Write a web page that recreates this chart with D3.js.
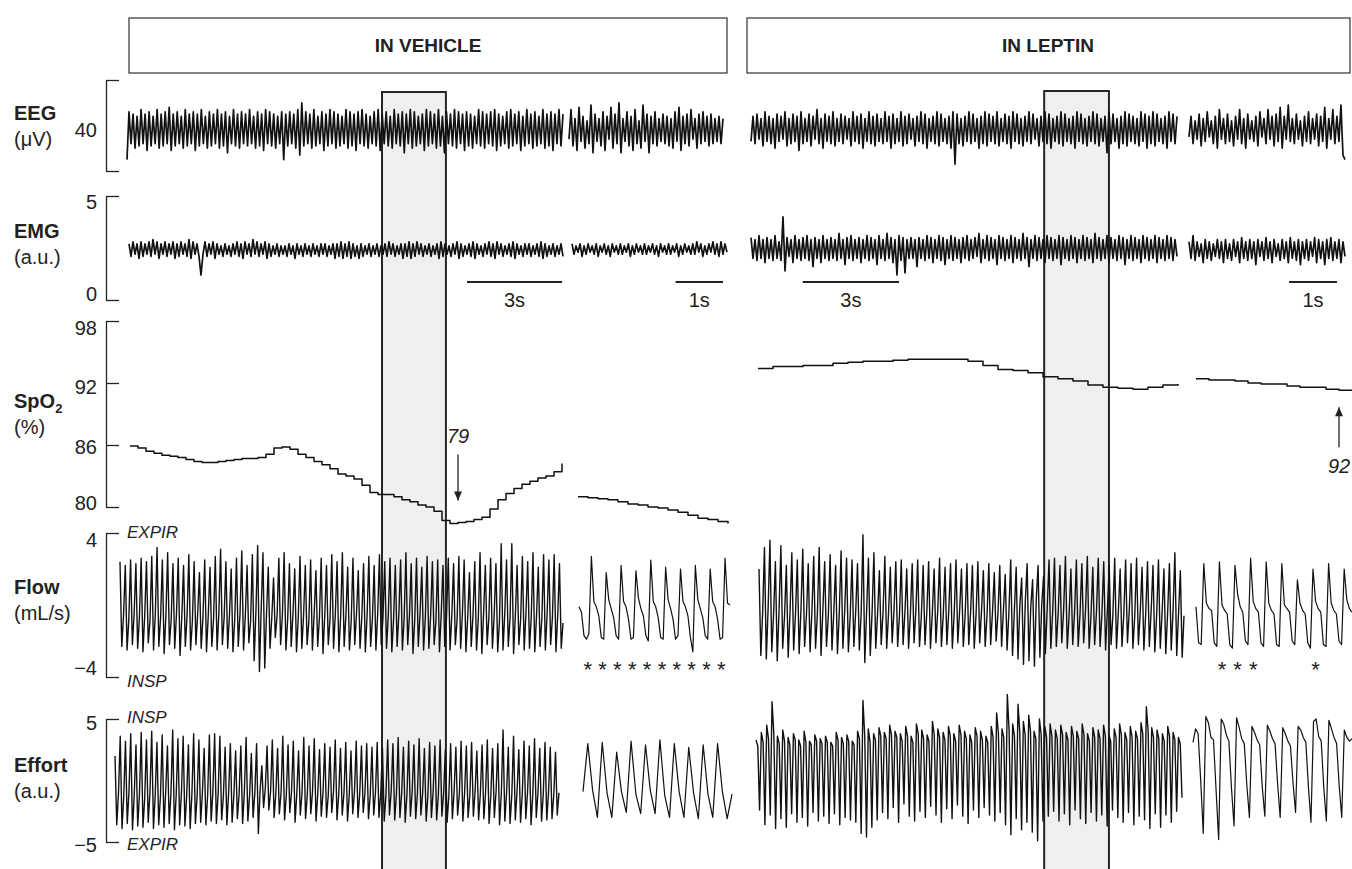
<!DOCTYPE html>
<html>
<head>
<meta charset="utf-8">
<script src="https://cdn.jsdelivr.net/npm/d3@7"></script>
<style>
body { margin: 0; background: #fff; }
svg { display: block; font-family: "Liberation Sans", Arial, Helvetica, sans-serif; }
.trace { fill: none; stroke: #111; stroke-width: 1; stroke-linejoin: round; }
.axis path, .axis line { stroke: #222; stroke-width: 1.3; }
.axis text { font-size: 20px; fill: #222; font-family: "Liberation Sans", Arial, sans-serif; }
</style>
</head>
<body>
<div id="chart"></div>
<script>
// ---- data ----
const panels = ["IN VEHICLE", "IN LEPTIN"];

// EEG (uV)
const eegVehMain = [-15,6,-8,5,-10,4,-9,7,-8,5,-11,6,-9,4,-8,7,-10,5,-9,6,
  -8,8,-11,5,-9,6,-8,4,-10,7,-9,5,-8,6,-11,5,-9,7,-8,4,
  -10,6,-9,5,-8,7,-10,5,-9,6,-12,4,-8,7,-9,5,-10,6,-8,5,
  -9,7,-8,4,-10,6,-9,5,-11,7,-8,6,-9,5,-10,4,-8,6,-15,5,
  -9,6,-8,5,-10,7,-13,10,-9,6,-8,5,-10,7,-9,4,-8,6,-11,5,
  -9,7,-8,6,-10,5,-9,4,-8,7,-10,6,-9,5,-11,6,-8,7,-9,5,
  -10,4,-8,6,-9,7,-11,5,-8,6,-9,4,-10,7,-8,5,-9,6,-12,5,
  -8,7,-10,6,-9,4,-8,5,-11,7,-9,6,-8,5,-10,7,-9,4,-12,6,
  -8,5,-9,7,-10,6,-8,5,-11,6,-9,5,-10,4,-8,7,-9,6,-10,5,
  -8,6,-9,7,-11,5,-9,4,-8,6,-10,7,-9,5,-8,6,-11,4,-9,7,
  -8,5,-10,6,-9,4,-8,7,-10,5,-9,6,-11,5,-8,7,-9,5];
const eegVehSmall = [-6,7,-9,3,-11,8,-7,4,-10,2,-8,9,-12,5,-7,3,-9,6,-11,4,
  -6,8,-10,5,-8,10,-12,3,-7,6,-9,4,-11,7,-8,2,-10,9,-7,5,
  -12,4,-8,6,-9,3,-7,5,-8,4,-9,3,-10,6,-7,8,-11,4,-8,5,
  -9,7,-6,3,-10,5,-8,6,-7,4,-9,5,-8,3,-7,4,-8,3];
const eegLepMain = [-7,4,-8,5,-6,3,-9,6,-7,4,-8,3,-10,5,-7,4,-6,6,-9,3,
  -8,5,-7,4,-11,6,-8,3,-7,5,-9,4,-6,7,-8,3,-10,5,-7,4,
  -8,6,-9,3,-7,5,-8,4,-6,3,-9,6,-7,4,-8,5,-10,3,-7,6,
  -8,4,-9,5,-7,3,-8,6,-7,4,-10,5,-8,3,-7,6,-9,4,-8,5,
  -6,3,-9,4,-7,6,-8,5,-10,3,-7,4,-8,6,-9,5,-7,3,-8,4,
  -10,6,-17,5,-8,3,-9,4,-7,6,-8,5,-7,3,-10,4,-8,6,-9,5,
  -7,4,-8,6,-9,3,-7,5,-8,4,-10,6,-7,5,-8,3,-9,4,-7,6,
  -8,5,-6,3,-9,4,-7,6,-8,5,-10,3,-7,4,-8,6,-9,5,-7,3,
  -8,4,-10,6,-7,5,-8,3,-9,4,-7,6,-8,5,-9,3,-7,4,-12,6,
  -8,5,-7,3,-10,4,-8,6,-9,5,-7,4,-8,3,-9,6,-7,5,-10,4,
  -8,6,-9,5,-7,3,-8,4,-10,6,-7,5,-8,4];
const eegLepSmall = [-5,4,-8,2,-6,5,-9,3,-7,6,-5,2,-8,4,-10,7,-6,3,-8,5,
  -7,2,-9,4,-6,7,-8,3,-10,5,-6,2,-7,4,-9,6,-5,3,-8,7,
  -6,4,-9,5,-7,8,-10,4,-6,9,-7,3,-8,5,-6,2,-9,4,-7,6,
  -8,3,-6,5,-9,4,-7,8,-10,3,-6,7,-8,4,-7,9,-13,-15];

// EMG (a.u.)
const emgVehMain = [2.7,2.1,2.8,2.2,2.7,2.0,2.8,2.1,2.7,2.2,2.8,2.1,2.9,2.2,2.8,2.0,2.7,2.2,2.8,2.1,
  2.7,2.2,2.8,2.0,2.7,2.1,2.8,2.2,2.7,2.1,2.9,2.0,2.8,2.2,2.7,2.1,1.2,2.2,2.8,2.1,
  2.7,2.2,2.8,2.0,2.7,2.2,2.6,2.1,2.7,2.2,2.6,2.1,2.7,2.2,2.8,2.1,2.7,2.0,2.8,2.2,
  2.7,2.1,2.9,2.2,2.8,2.1,2.7,2.2,2.8,2.0,2.7,2.1,2.6,2.2,2.7,2.1,2.6,2.2,2.6,2.1,
  2.7,2.2,2.6,2.0,2.7,2.2,2.6,2.1,2.7,2.2,2.6,2.1,2.7,2.2,2.6,2.1,2.7,2.2,2.7,2.1,
  2.6,2.2,2.7,2.0,2.7,2.1,2.8,2.0,2.7,2.1,2.8,2.0,2.7,2.1,2.6,2.0,2.7,2.1,2.6,2.2,
  2.7,2.1,2.6,2.2,2.7,2.1,2.6,2.2,2.7,2.1,2.8,2.2,2.7,2.1,2.6,2.2,2.7,2.0,2.7,2.1,
  2.8,2.0,2.7,2.1,2.8,2.2,2.7,2.1,2.6,2.2,2.7,2.1,2.6,2.2,2.7,2.0,2.8,2.1,2.7,2.2,
  2.6,2.1,2.7,2.2,2.8,2.0,2.7,2.1,2.6,2.2,2.7,2.1,2.8,2.0,2.7,2.2,2.6,2.1,2.7,2.2,
  2.8,2.1,2.7,2.0,2.8,2.2,2.7,2.1,2.6,2.2,2.7,2.1,2.8,2.0,2.7,2.2,2.6,2.1,2.7,2.2,
  2.7,2.1,2.6,2.2,2.7,2.1,2.8,2.0,2.7,2.1,2.6,2.2,2.7,2.1,2.6,2.2,2.7,2.1];
const emgVehSmall = [2.7,2.2,2.6,2.3,2.7,2.1,2.6,2.2,2.7,2.3,2.6,2.2,2.7,2.1,2.6,2.3,2.7,2.2,2.6,2.1,
  2.7,2.3,2.6,2.2,2.7,2.2,2.6,2.3,2.7,2.1,2.6,2.2,2.7,2.3,2.6,2.2,2.7,2.2,2.6,2.3,
  2.7,2.2,2.6,2.1,2.7,2.3,2.6,2.2,2.7,2.2,2.6,2.3,2.7,2.1,2.6,2.2,2.7,2.3,2.6,2.2,
  2.7,2.2,2.8,2.3,2.7,2.1,2.6,2.2,2.7,2.3,2.8,2.2,2.7,2.1,2.8,2.2,2.7,2.3];
const emgLepMain = [3.0,2.0,2.9,1.9,3.1,2.0,2.9,1.8,3.0,2.0,2.9,1.9,3.1,2.0,2.8,1.9,4.0,1.4,3.0,2.1,
  2.9,1.8,3.1,2.0,2.9,1.9,3.0,2.0,3.1,1.9,2.9,1.6,3.0,2.0,2.9,1.8,3.1,2.0,2.9,1.9,
  3.0,2.0,2.9,1.9,3.2,2.0,2.9,1.7,3.0,2.0,3.1,1.9,2.9,2.0,3.0,1.8,2.9,2.0,3.1,1.9,
  3.0,2.0,2.9,1.7,3.1,2.0,2.9,1.9,3.2,2.0,3.0,1.8,2.9,1.2,3.1,1.9,3.0,1.3,2.9,2.0,
  3.0,2.0,2.9,1.6,3.0,2.0,2.9,1.9,3.1,2.0,3.0,1.8,2.9,2.0,3.1,1.9,3.0,1.7,2.9,2.0,
  3.1,1.9,3.0,2.0,2.9,1.8,3.0,2.0,3.1,1.9,2.9,2.0,3.0,2.1,3.2,1.8,2.9,2.0,3.1,1.9,
  3.0,2.0,2.9,1.7,3.1,2.0,3.0,1.9,2.9,2.0,3.1,1.8,3.0,2.0,2.9,1.9,3.2,2.0,3.0,1.6,
  2.9,2.0,3.1,1.9,3.0,2.0,2.9,1.8,3.1,2.0,3.0,1.9,2.9,2.0,3.1,1.7,3.0,2.0,2.9,1.9,
  3.1,2.0,3.0,1.8,2.9,2.0,3.1,1.9,3.0,2.0,2.9,1.8,3.2,2.0,3.0,1.9,2.9,2.0,3.1,1.8,
  3.0,2.0,2.9,1.9,3.1,2.0,3.0,1.7,2.9,2.0,3.1,1.9,3.0,2.0,2.9,1.8,3.1,2.0,3.0,1.9,
  2.9,2.0,3.1,1.8,3.0,2.0,2.9,1.9,3.1,2.0,3.0,1.9,2.9,2.1];
const emgLepSmall = [2.8,2.0,3.1,1.9,2.8,2.1,2.7,1.8,2.9,2.0,2.8,1.9,2.7,2.1,2.9,2.0,2.8,1.8,2.9,2.0,
  2.7,1.9,2.9,2.1,2.8,1.8,3.0,2.0,2.8,1.9,2.9,2.0,2.8,1.7,2.9,2.1,2.8,1.9,3.0,2.0,
  2.8,1.8,2.9,2.1,2.7,1.9,2.9,2.0,2.8,1.8,3.0,2.0,2.8,1.9,2.9,1.7,2.8,2.0,2.9,1.9,
  2.8,2.1,3.0,1.8,2.9,2.0,2.8,1.7,2.9,2.0,3.0,1.9,2.8,2.0,2.9,1.8,2.8,2.1];

// SpO2 (%)
const spo2VehMain = [85.9,85.7,85.4,85.2,85.0,84.9,84.8,84.6,84.4,84.3,84.3,84.4,84.5,84.6,84.7,84.7,84.8,85.1,85.7,85.8,85.6,85.1,84.8,84.4,84.1,83.7,83.2,83.0,82.7,82.1,81.4,81.2,81.2,81.0,80.7,80.5,80.2,80.0,79.6,78.7,78.4,78.5,78.6,78.8,79.0,79.8,80.7,81.3,81.8,82.2,82.5,82.8,83.0,83.4,84.2];
const spo2VehSmall = [81.0,80.9,80.8,80.7,80.5,80.3,80.2,80.0,79.9,79.7,79.5,79.2,78.9,78.8,78.6,78.4];
const spo2LepMain = [93.4,93.6,93.6,93.7,93.7,93.9,94.0,94.1,94.1,94.2,94.3,94.3,94.3,94.3,94.1,93.7,93.3,93.2,93.0,92.6,92.4,92.2,91.8,91.6,91.5,91.4,91.6,91.8,91.9];
const spo2LepSmall = [92.4,92.3,92.3,92.2,92.0,91.9,91.9,91.7,91.6,91.6,91.4,91.3,91.3];

// Flow (mL/s)
const flowVehMain = [2.4,-2.3,-0.6,2.2,-2.5,-0.8,2.5,-2.2,-0.5,2.3,-2.4,-0.7,2.6,-2.6,-0.6,2.4,-2.1,-0.9,2.7,-2.5,-0.5,3.2,-2.3,-0.7,2.5,-2.7,-0.6,2.9,-2.2,-0.8,2.3,-2.4,-0.5,2.6,-2.8,-0.7,2.2,-2.3,-0.6,2.8,-2.5,-0.9,2.4,-2.2,-0.5,
  1.8,-2.4,-0.7,2.5,-2.6,-0.6,2.1,-2.3,-0.8,2.7,-2.5,-0.5,3.1,-2.2,-0.7,2.4,-2.4,-0.6,2.0,-2.6,-0.8,2.6,-2.3,-0.5,3.0,-2.5,-0.6,2.2,-2.1,-0.9,2.8,-3.1,-0.4,3.3,-3.7,-0.2,2.9,-3.5,-0.5,2.1,-2.4,-0.7,1.5,-1.8,-0.6,
  2.6,-2.2,-0.6,2.9,-2.5,-0.8,2.3,-2.3,-0.5,2.0,-2.6,-0.7,2.7,-2.4,-0.6,2.2,-2.2,-0.9,2.5,-2.5,-0.5,1.9,-2.3,-0.7,2.6,-2.7,-0.6,2.2,-2.2,-0.8,2.8,-2.4,-0.5,2.4,-2.6,-0.7,2.9,-2.3,-0.6,2.1,-2.5,-0.9,2.6,-2.2,-0.5,1.9,-2.4,-0.7,2.3,-2.6,-0.6,2.7,-2.3,-0.8,2.2,-2.5,-0.5,
  2.8,-2.2,-0.7,2.4,-2.4,-0.6,2.6,-2.6,-0.8,2.2,-2.3,-0.5,2.5,-2.5,-0.7,2.9,-2.2,-0.6,2.3,-2.7,-0.8,2.6,-2.3,-0.5,2.1,-2.5,-0.7,2.7,-2.4,-0.6,2.4,-2.2,-0.9,2.5,-2.6,-0.5,2.2,-2.3,-0.7,2.6,-2.5,-0.6,2.3,-2.2,-0.8,2.7,-2.4,-0.5,2.5,-2.6,-0.7,1.8,-2.3,-0.6,2.4,-2.5,-0.8,2.9,-2.7,-0.5,2.2,-2.2,-0.7,2.6,-2.4,-0.6,2.3,-2.6,-0.9,3.4,-2.5,-0.5,2.5,-2.3,-0.7,3.4,-2.7,-0.6,2.2,-2.2,-0.8,2.7,-2.5,-0.5,2.4,-2.4,-0.7,2.9,-2.6,-0.6,2.1,-2.3,-0.8,2.8,-2.5,-0.5,2.5,-2.2,-0.7,2.8,-2.6,-0.6,2.3,-2.4,-1.0];
const flowVehSmall = [-0.1,-0.4,-1.7,-1.9,-1.6,
  2.7,0.2,-0.1,-0.6,-1.8,-1.9, 1.8,0.3,-0.2,-0.7,-1.7,-1.9, 2.2,0.2,-0.1,-0.8,-1.9,-1.8, 1.9,0.4,-0.2,-0.6,-1.7,-2.0, 2.5,0.2,-0.1,-0.7,-1.8,-1.9,
  2.1,0.3,-0.2,-0.8,-1.9,-1.7, 2.0,0.2,-0.1,-0.6,-1.8,-2.6, 2.2,0.3,-0.2,-0.7,-1.7,-1.9, 2.0,0.2,-0.1,-0.8,-1.9,-1.8, 2.6,0.1,0.0];
const flowLepMain = [2.0,-2.8,-0.4,3.2,-3.0,-0.2,3.6,-2.6,-0.5,2.4,-3.1,-0.3,3.3,-2.4,-0.6,2.2,-2.9,-0.4,2.9,-2.5,-0.5,2.5,-2.7,-0.3,3.1,-2.3,-0.6,2.3,-2.6,-0.4,2.7,-2.4,-0.5,3.2,-2.8,-0.3,2.4,-2.3,-0.6,2.8,-2.5,-0.4,2.2,-2.7,-0.5,3.0,-2.4,-0.3,2.6,-2.6,-0.6,2.5,-2.3,-0.4,2.3,-2.5,-0.5,3.9,-3.2,-0.3,2.6,-2.8,-0.4,2.9,-2.4,-0.5,
  1.9,-2.2,-0.4,2.7,-2.4,-0.5,2.1,-2.1,-0.3,2.4,-2.3,-0.6,2.5,-2.2,-0.4,2.0,-2.4,-0.5,2.3,-2.1,-0.3,2.5,-2.3,-0.6,2.2,-2.2,-0.4,2.4,-2.4,-0.5,2.0,-2.1,-0.3,2.6,-2.3,-0.6,2.1,-2.2,-0.4,2.3,-2.4,-0.5,2.5,-2.1,-0.3,2.0,-2.3,-0.6,2.3,-2.2,-0.4,2.2,-2.4,-0.5,2.4,-2.1,-0.3,1.9,-2.3,-0.6,2.3,-2.2,-0.4,1.8,-2.0,-0.5,2.2,-2.3,-0.3,1.7,-2.5,-0.4,2.5,-2.8,-0.3,
  2.1,-3.0,0.0,1.5,-3.3,0.2,2.3,-3.1,-0.1,1.4,-3.4,0.3,2.2,-2.9,0.0,1.6,-2.7,-0.2,2.5,-2.4,-0.4,
  2.6,-2.3,-0.5,2.2,-2.1,-0.3,2.7,-2.4,-0.6,2.0,-2.2,-0.4,2.5,-2.3,-0.5,2.3,-2.1,-0.3,2.7,-2.4,-0.6,2.1,-2.2,-0.4,2.6,-2.3,-0.5,2.4,-2.5,-0.3,2.2,-2.2,-0.6,2.6,-2.4,-0.4,2.0,-2.3,-0.5,2.5,-2.1,-0.3,2.3,-2.4,-0.6,2.6,-2.2,-0.4,2.1,-2.5,-0.5,2.4,-2.3,-0.3,2.2,-2.6,-0.6,2.5,-2.4,-0.4,2.0,-2.7,-0.5,2.3,-2.5,-0.3,2.9,-2.8,-0.5,1.9,-2.9,-0.6];
const flowLepSmall = [-0.1,-2.1,-2.2,
  2.3,0.1,-0.2,-0.3,-2.1,-2.3, 2.4,0.0,-0.3,-0.5,-2.2,-2.4, 2.2,0.6,-0.1,-0.4,-2.0,-2.2, 2.6,0.2,-0.2,-0.4,-2.1,-2.3, 2.4,0.1,-0.3,-0.5,-2.2,-2.3,
  2.3,0.0,-0.2,-0.4,-2.0,-2.2, 1.4,0.1,-0.3,-0.5,-2.1,-2.4, 2.0,0.2,-0.2,-0.4,-2.2,-2.3, 2.3,0.1,-0.3,-0.5,-2.0,-2.2, 2.0,0.3,-0.2,-0.4];

// Effort (a.u.)
const effortVehMain = [2.0,-3.6,-1.0,3.6,-3.9,-1.3,3.2,-3.5,-0.9,3.8,-4.0,-1.2,2.9,-3.7,-1.1,3.9,-3.8,-1.4,3.3,-3.4,-1.0,4.0,-3.9,-1.2,3.1,-3.6,-1.3,3.7,-3.8,-0.9,2.8,-3.5,-1.1,4.1,-4.0,-1.2,3.4,-3.6,-1.0,3.6,-3.7,-1.3,2.9,-3.9,-1.1,3.8,-3.5,-1.2,
  3.3,-3.4,-1.0,2.6,-3.6,-1.2,3.7,-3.3,-0.9,3.8,-3.5,-1.1,3.6,-3.2,-1.3,2.7,-3.6,-1.0,3.0,-3.4,-1.2,2.4,-3.1,-1.1,2.8,-3.5,-0.9,3.5,-3.3,-1.2,2.2,-3.0,-1.0,3.0,-4.3,-0.8,1.2,-2.2,-0.6,
  2.8,-2.4,-0.9,3.3,-3.0,-1.1,2.6,-2.7,-1.0,3.6,-3.2,-1.2,2.9,-2.6,-0.9,3.2,-3.4,-1.1,2.4,-2.8,-1.0,3.5,-3.1,-1.2,2.8,-2.7,-0.9,3.4,-3.3,-1.1,2.5,-2.9,-1.0,3.0,-3.0,-1.2,2.7,-2.6,-0.9,3.3,-3.2,-1.1,2.6,-2.8,-1.0,3.1,-3.3,-1.2,2.4,-2.7,-0.9,3.2,-3.0,-1.1,2.8,-2.6,-1.0,3.0,-3.1,-1.2,2.7,-2.8,-1.0,
  3.1,-3.0,-1.1,2.6,-3.3,-1.2,3.3,-2.8,-0.9,3.0,-3.2,-1.1,3.5,-3.0,-1.0,2.7,-3.4,-1.2,3.2,-2.9,-0.9,2.9,-3.1,-1.1,3.4,-2.8,-1.0,2.6,-3.3,-1.2,3.1,-3.0,-0.9,2.8,-3.2,-1.1,3.3,-2.9,-1.0,2.5,-3.4,-1.2,3.0,-3.1,-0.9,2.7,-2.8,-1.1,3.2,-3.3,-1.0,2.8,-3.0,-1.2,3.1,-2.9,-0.9,2.4,-3.2,-1.1,2.9,-3.1,-1.0,3.3,-3.5,-1.2,2.6,-3.0,-0.9,3.0,-3.6,-1.1,4.1,-3.3,-1.0,2.7,-3.5,-1.2,3.6,-3.2,-0.9,2.5,-3.4,-1.1,3.2,-3.1,-1.0,2.8,-3.6,-1.2,3.4,-3.0,-0.9,2.6,-3.3,-1.1,3.1,-3.2,-1.0,2.7,-3.1,-1.2,2.3,-2.8,-1.0];
const effortVehSmall = [-0.9, 3.0,-0.8,-3.0, 3.1,-1.0,-3.0, 2.3,-0.9,-2.6, 3.2,-1.1,-2.7, 2.9,-0.8,-2.7, 3.3,-1.2,-3.0, 3.0,-0.9,-3.0, 2.7,-1.0,-3.1, 2.9,-1.1,-3.0, 3.0,-0.9,-3.1, -1.1];
const effortLepMain = [3.3,2.8,-2.4,3.9,3.1,-3.6,4.5,3.4,-2.8,6.4,3.8,-3.9,3.6,3.0,-3.1,4.1,3.2,-3.8,3.5,2.9,-2.7,3.8,3.3,-3.4,3.3,2.8,-3.0,4.0,3.1,-3.7,3.2,2.9,-2.6,3.7,3.2,-3.3,3.4,3.0,-2.9,3.6,3.1,-3.5,3.1,2.8,-2.7,3.9,3.3,-3.6,3.5,3.0,-3.0,3.7,3.2,-3.2,3.2,2.9,-3.4,4.0,3.4,-4.3,6.5,3.6,-4.6,4.2,3.1,-3.8,3.8,3.3,-3.2,
  4.3,3.6,-2.6,3.9,3.4,-3.1,4.5,3.7,-2.2,4.0,3.5,-3.4,3.8,3.2,-1.9,4.4,3.6,-2.9,3.6,3.1,-3.3,4.6,3.8,-2.5,4.1,3.4,-3.0,3.7,3.2,-2.1,4.8,3.7,-2.8,4.2,3.5,-3.4,3.9,3.3,-2.3,4.4,3.6,-3.1,3.8,3.2,-2.0,4.5,3.7,-2.9,4.0,3.4,-3.5,3.7,3.1,-2.4,4.3,3.6,-3.0,4.0,3.3,-2.2,3.6,3.1,-2.8,4.4,3.5,-3.3,
  5.5,3.8,-2.6,4.2,3.5,-3.6,7.0,4.0,-4.4,4.6,3.6,-3.1,6.2,3.9,-4.0,4.8,3.7,-3.4,5.3,4.0,-4.2,4.0,3.4,-4.9,5.0,3.7,-3.3,4.4,3.5,-2.9,
  4.6,3.6,-2.5,4.1,3.4,-3.3,4.5,3.7,-2.7,3.9,3.3,-3.6,4.4,3.6,-2.4,4.0,3.4,-3.1,4.6,3.7,-3.5,3.8,3.2,-2.6,4.3,3.5,-3.3,4.1,3.4,-2.8,4.5,3.6,-3.7,3.7,3.2,-2.4,4.2,3.5,-3.0,4.6,3.7,-3.4,3.9,3.3,-2.6,4.4,3.5,-3.6,4.0,3.4,-2.9,4.7,3.8,-3.2,6.0,4.0,-3.9,4.3,3.5,-2.7,4.1,3.4,-3.8,3.8,3.2,-2.8,4.4,3.6,-3.4,3.9,3.3,-2.5,3.5,3.0,-1.4];
const effortLepSmall = [3.1,4.2,3.8,0.0,-4.3,
  5.2,4.7,3.5,3.3,-0.8,-4.8, 5.0,4.6,3.7,3.2,-0.6,-3.7, 5.1,4.3,3.4,3.0,-0.4,-3.0, 4.4,3.9,3.3,2.9,-0.5,-2.9, 4.5,4.0,3.4,3.0,-0.3,-3.0,
  4.3,3.8,3.2,2.8,-0.2,-2.6, 4.4,4.1,3.5,3.1,-0.5,-3.4, 4.8,5.0,3.6,3.2,-0.6,-3.3, 4.9,4.2,3.5,3.0,-0.4,-3.0, 4.1,3.5,3.2,3.4];

// ---- layout ----
const width = 1352, height = 869;
const axisX = 106;
const ink = "#222";

const svg = d3.select("#chart").append("svg")
    .attr("width", width)
    .attr("height", height);

const y = {
    eeg: d3.scaleLinear().domain([-20, 20]).range([171, 80]),
    emg: d3.scaleLinear().domain([0, 5]).range([300, 196]),
    spo2: d3.scaleLinear().domain([80, 98]).range([507, 321]),
    flow: d3.scaleLinear().domain([-4, 4]).range([677, 533]),
    effort: d3.scaleLinear().domain([-5, 5]).range([842, 719])
};

// line weight per row (dense noise traces drawn heavier so they read as a band)
const weight = { eeg: 1.7, emg: 1.7, spo2: 1.5, flow: 1.4, effort: 1.4 };

// time scales (seconds) for each of the four sweeps
const sweep = {
    vehMain: d3.scaleLinear().domain([0, 14]).range([120, 563]),
    vehSmall: d3.scaleLinear().domain([0, 3.4]).range([569, 730]),
    lepMain: d3.scaleLinear().domain([0, 13.5]).range([751, 1184]),
    lepSmall: d3.scaleLinear().domain([0, 3.4]).range([1189, 1352])
};

// header boxes
const heads = svg.selectAll(".head").data(panels).enter().append("g");
heads.append("rect")
    .attr("x", (d, i) => i ? 747 : 129)
    .attr("y", 18)
    .attr("width", (d, i) => i ? 603 : 598)
    .attr("height", 55)
    .attr("fill", "none")
    .attr("stroke", "#333")
    .attr("stroke-width", 1.2);
heads.append("text")
    .attr("x", (d, i) => i ? 747 + 301 : 129 + 299)
    .attr("y", 52)
    .attr("text-anchor", "middle")
    .style("font-weight", "bold")
    .style("font-size", "19px")
    .style("fill", ink)
    .text(d => d);

// highlighted windows
[[sweep.vehMain, 8.28, 10.3, 92], [sweep.lepMain, 9.14, 11.16, 91]].forEach(([s, t0, t1, top]) => {
    svg.append("rect")
        .attr("x", s(t0))
        .attr("y", top)
        .attr("width", s(t1) - s(t0))
        .attr("height", height - top + 10)
        .attr("fill", "#efefef")
        .attr("stroke", "#262626")
        .attr("stroke-width", 2);
});

// traces
const traces = [
    { row: "eeg", values: eegVehMain, x: [127, 563] },
    { row: "eeg", values: eegVehSmall, x: [569, 723] },
    { row: "eeg", values: eegLepMain, x: [751, 1177] },
    { row: "eeg", values: eegLepSmall, x: [1189, 1345] },
    { row: "emg", values: emgVehMain, x: [129, 563] },
    { row: "emg", values: emgVehSmall, x: [572, 727] },
    { row: "emg", values: emgLepMain, x: [751, 1177] },
    { row: "emg", values: emgLepSmall, x: [1189, 1345] },
    { row: "spo2", values: spo2VehMain, x: [130, 562], step: true },
    { row: "spo2", values: spo2VehSmall, x: [578, 728], step: true },
    { row: "spo2", values: spo2LepMain, x: [758, 1178], step: true },
    { row: "spo2", values: spo2LepSmall, x: [1196, 1352], step: true },
    { row: "flow", values: flowVehMain, x: [120, 563] },
    { row: "flow", values: flowVehSmall, x: [579, 730], fine: true },
    { row: "flow", values: flowLepMain, x: [759, 1184] },
    { row: "flow", values: flowLepSmall, x: [1196, 1352], fine: true },
    { row: "effort", values: effortVehMain, x: [115, 559] },
    { row: "effort", values: effortVehSmall, x: [583, 732], fine: true },
    { row: "effort", values: effortLepMain, x: [756, 1182] },
    { row: "effort", values: effortLepSmall, x: [1193, 1352], fine: true }
];

traces.forEach(t => {
    t.xs = d3.scaleLinear().domain([0, t.values.length - 1]).range(t.x);
    const line = d3.line()
        .x((d, i) => t.xs(i))
        .y(d => y[t.row](d))
        .curve(t.step ? d3.curveStepAfter : d3.curveLinear);
    svg.append("path")
        .attr("class", "trace")
        .attr("d", line(t.values))
        .style("stroke-width", t.fine ? 1.2 : weight[t.row]);
});

// bracket axes
const axes = [
    { row: "eeg", ticks: [-20, 20], labels: ["", ""], nudge: [0, 0] },
    { row: "emg", ticks: [5, 0], labels: ["5", "0"], nudge: [5, -7] },
    { row: "spo2", ticks: [98, 92, 86, 80], labels: ["98", "92", "86", "80"], nudge: [6, 3, 1, -5] },
    { row: "flow", ticks: [4, -4], labels: ["4", "\u22124"], nudge: [6, -10] },
    { row: "effort", ticks: [5, -5], labels: ["5", "\u22125"], nudge: [3, 2] }
];
axes.forEach(a => {
    const g = svg.append("g")
        .attr("class", "axis")
        .attr("transform", `translate(${axisX},0)`)
        .call(d3.axisRight(y[a.row]).tickValues(a.ticks).tickSize(13).tickSizeOuter(0)
            .tickFormat((d, i) => a.labels[i]));
    g.selectAll("text")
        .attr("x", -9)
        .attr("text-anchor", "end")
        .attr("dy", (d, i) => (a.nudge[i] + 7) + "px");
});
svg.append("text")
    .attr("x", 97).attr("y", y.eeg(0) + 11)
    .attr("text-anchor", "end")
    .style("font-size", "20px").style("fill", ink)
    .text("40");

// row titles
const titles = [
    { name: "EEG", unit: "(\u03bcV)", base: 120 },
    { name: "EMG", unit: "(a.u.)", base: 238 },
    { name: "SpO", sub: "2", unit: "(%)", base: 408 },
    { name: "Flow", unit: "(mL/s)", base: 594 },
    { name: "Effort", unit: "(a.u.)", base: 772 }
];
titles.forEach(t => {
    const tx = svg.append("text").attr("x", 14).attr("y", t.base)
        .style("font-weight", "bold").style("font-size", "20px").style("fill", ink)
        .text(t.name);
    if (t.sub) tx.append("tspan").attr("dy", 5).style("font-size", "13px").text(t.sub);
    svg.append("text").attr("x", 14).attr("y", t.base + 26)
        .style("font-size", "20px").style("fill", ink)
        .text(t.unit);
});

// direction labels
[["EXPIR", 538], ["INSP", 687], ["INSP", 723], ["EXPIR", 850]].forEach(([s, yy]) => {
    svg.append("text").attr("x", 127).attr("y", yy)
        .style("font-style", "italic").style("font-size", "17px").style("fill", ink)
        .text(s);
});

// time scale bars
const bars = [
    { s: sweep.vehMain, sec: 3, end: 562 },
    { s: sweep.vehSmall, sec: 1, end: 723 },
    { s: sweep.lepMain, sec: 3, end: 899 },
    { s: sweep.lepSmall, sec: 1, end: 1337 }
];
bars.forEach(b => {
    const len = b.s(b.sec) - b.s(0);
    svg.append("line")
        .attr("x1", b.end - len).attr("x2", b.end)
        .attr("y1", 282).attr("y2", 282)
        .attr("stroke", ink).attr("stroke-width", 2);
    svg.append("text")
        .attr("x", b.end - len / 2).attr("y", 307)
        .attr("text-anchor", "middle")
        .style("font-size", "20px").style("fill", ink)
        .text(b.sec + "s");
});

// SpO2 nadir annotations
function arrowNote(t, idx, label, dir) {
    const ax = t.xs(idx);
    const ty = y.spo2(t.values[idx]);
    let tip, tail, ly;
    if (dir === "down") { tip = ty - 22; tail = tip - 46; ly = tail - 12; }
    else { tip = ty + 17; tail = tip + 40; ly = tail + 26; }
    svg.append("line").attr("x1", ax).attr("x2", ax).attr("y1", tail).attr("y2", tip)
        .attr("stroke", ink).attr("stroke-width", 1.3);
    const s = dir === "down" ? 1 : -1;
    svg.append("path")
        .attr("d", `M${ax - 4},${tip - 9 * s}L${ax + 4},${tip - 9 * s}L${ax},${tip}Z`)
        .attr("fill", ink);
    svg.append("text").attr("x", ax).attr("y", ly)
        .attr("text-anchor", "middle")
        .style("font-style", "italic").style("font-size", "20px").style("fill", ink)
        .text(label);
}
arrowNote(traces[8], 41, "79", "down");
arrowNote(traces[11], 11, "92", "up");

// asterisks under obstructed breaths
function peaks(v) {
    const out = [];
    v.forEach((d, i) => { if (d > 1 && (i === 0 || d > v[i - 1]) && (i === v.length - 1 || d >= v[i + 1])) out.push(i); });
    return out;
}
const starsVeh = [0, 1, 2, 3, 4, 5, 6, 7, 8, 9];
const starsLep = [1, 2, 3, 7];
[[traces[13], starsVeh, -1.5], [traces[15], starsLep, 1]].forEach(([t, marks, off]) => {
    const pk = peaks(t.values);
    marks.forEach(k => {
        svg.append("text")
            .attr("x", t.xs(pk[k] + off)).attr("y", 677)
            .attr("text-anchor", "middle")
            .style("font-size", "22px").style("fill", ink)
            .text("*");
    });
});
</script>
</body>
</html>
